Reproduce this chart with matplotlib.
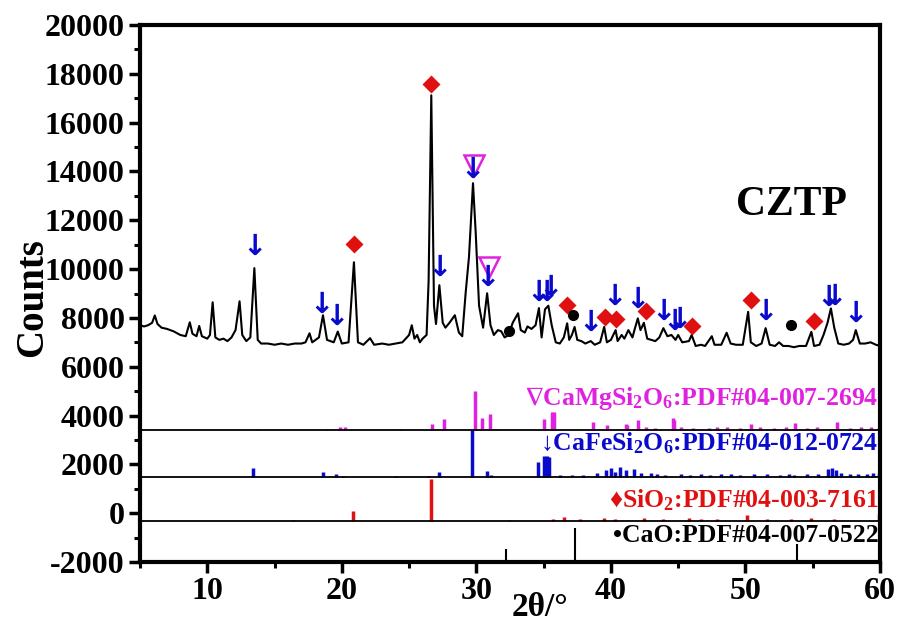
import matplotlib
matplotlib.use("Agg")
import matplotlib.pyplot as plt
from matplotlib.ticker import MultipleLocator

plt.rcParams['font.family'] = ['Liberation Serif', 'DejaVu Serif']
plt.rcParams['font.weight'] = 'bold'
plt.rcParams['mathtext.default'] = 'regular'
plt.rcParams['mathtext.fontset'] = 'dejavuserif'
plt.rcParams['axes.unicode_minus'] = False

# ---- measured XRD pattern (2theta, counts) ----
two_theta = [5.0, 5.3, 5.6, 5.9, 6.1, 6.3, 6.6, 7.0, 7.5, 8.0, 8.4, 8.7, 8.9, 9.2, 9.4, 9.6, 10.0, 10.2, 10.4, 10.6,
             10.9, 11.2, 11.5, 11.8, 12.1, 12.4, 12.6, 12.9, 13.2, 13.5, 13.75, 14.0, 14.5, 15.0, 15.5, 16.0, 16.5, 17.0,
             17.3, 17.6, 17.8, 18.3, 18.6, 18.9, 19.4, 19.7, 20.0, 20.5, 20.9, 21.2, 21.6, 22.1, 22.4, 23.0, 23.5, 24.0,
             24.5, 25.0, 25.2, 25.4, 25.6, 25.8, 26.0, 26.3, 26.45, 26.65, 26.85, 27.0, 27.25, 27.5, 27.7, 28.0, 28.4,
             28.7, 28.95, 29.2, 29.45, 29.75, 29.95, 30.2, 30.5, 30.8, 31.05, 31.3, 31.6, 31.85, 32.1, 32.4, 32.7, 33.1,
             33.3, 33.6, 33.8, 34.1, 34.4, 34.65, 34.85, 35.1, 35.35, 35.6, 35.9, 36.2, 36.5, 36.75, 36.9, 37.1, 37.3,
             37.5, 37.8, 38.1, 38.5, 38.8, 39.2, 39.5, 39.7, 40.0, 40.35, 40.5, 40.8, 41.0, 41.3, 41.6, 41.8, 42.0, 42.2,
             42.45, 42.7, 43.0, 43.3, 43.6, 43.9, 44.2, 44.5, 44.8, 45.0, 45.3, 45.8, 46.0, 46.3, 46.7, 47.0, 47.5, 47.7,
             48.2, 48.6, 48.9, 49.3, 49.8, 50.2, 50.4, 50.8, 51.2, 51.5, 51.8, 52.2, 52.5, 52.8, 53.2, 53.6, 54.0, 54.5,
             54.9, 55.1, 55.5, 55.8, 56.1, 56.35, 56.6, 56.9, 57.3, 57.7, 58.0, 58.2, 58.5, 58.9, 59.3, 59.7, 60.0]
counts = [7700, 7650, 7700, 7800, 8100, 7750, 7600, 7550, 7450, 7300, 7250, 7820, 7350, 7250, 7670, 7250, 7150, 7300, 8640, 7200,
          7100, 7150, 7050, 7200, 7500, 8680, 7300, 7050, 7200, 10040, 7100, 6950, 6950, 6900, 6950, 6900, 6950, 6950,
          7000, 7370, 7000, 7200, 8110, 7100, 7000, 7440, 6950, 7000, 10280, 7000, 6900, 7170, 6900, 6950, 6900, 6950,
          7000, 7300, 7700, 7150, 7300, 7000, 7150, 7300, 9500, 17120, 8500, 7750, 9340, 7800, 7600, 7800, 8110,
          7400, 7250, 9000, 10490, 13520, 11500, 8500, 7600, 9010, 7700, 7300, 7500, 7450, 7200, 7300, 7800, 8190,
          7500, 7400, 7650, 7550, 7700, 8400, 7200, 8350, 8500, 7700, 7000, 6950, 7200, 7780, 7100, 7300, 7630,
          7100, 7050, 6950, 7050, 6900, 7000, 7630, 7000, 7100, 7500, 7050, 7300, 7150, 7500, 7200, 7600, 7980, 7500,
          7800, 7150, 7100, 7050, 7200, 7580, 7250, 7300, 7100, 7300, 7000, 7050, 7300, 6850, 6900, 6850, 7250, 6900,
          6900, 7390, 6950, 6900, 6900, 8250, 7000, 6850, 6950, 7580, 6900, 6850, 7000, 6850, 6850, 6800, 6850, 6850,
          7430, 6850, 6900, 7300, 7800, 8390, 7600, 6950, 6900, 6950, 7100, 7500, 6950, 6950, 7000, 6900, 6850]

# ---- reference patterns (position, relative height) ----
camg_pos = [13.7, 18.9, 19.9, 20.2, 24.35, 26.7, 27.6, 29.9, 30.4, 31.0, 31.6, 35.06, 35.6, 35.8, 38.7, 39.7, 41.1,
            41.2, 42.05, 42.6, 43.3, 44.6, 44.7, 45.2, 46.1, 47.3, 47.9, 48.65, 49.6, 50.4, 51.1, 52.1, 53.0, 53.7,
            54.6, 55.35, 56.8, 57.8, 58.6, 59.3, 59.9]
camg_h = [40, 40, 130, 130, 60, 250, 450, 1600, 490, 650, 50, 450, 740, 740, 340, 200, 270, 200, 400, 120, 100,
          480, 400, 150, 100, 100, 120, 150, 100, 250, 150, 100, 120, 300, 100, 120, 350, 100, 150, 120, 150]
cafe_pos = [13.43, 18.6, 19.6, 20.1, 24.0, 26.4, 27.2, 29.7, 30.8, 31.1, 34.6, 35.06, 35.26, 35.4, 36.25, 37.1, 37.9,
            39.0, 39.6, 40.0, 40.3, 40.7, 41.1, 41.7, 42.2, 42.95, 43.4, 44.0, 45.2, 45.9, 46.7, 47.4, 48.2, 48.9,
            49.6, 50.6, 51.6, 52.6, 53.2, 53.6, 54.6, 55.4, 56.1, 56.4, 56.7, 57.1, 57.8, 58.4, 59.0, 59.5, 59.9]
cafe_h = [370, 200, 100, 40, 30, 40, 200, 1900, 210, 50, 615, 860, 860, 800, 80, 80, 60, 150, 250, 350, 200, 400,
          250, 300, 150, 150, 120, 80, 100, 80, 100, 80, 120, 100, 80, 120, 120, 80, 100, 80, 100, 120, 300, 350,
          250, 150, 100, 120, 100, 150, 150]
sio2_pos = [16.4, 20.86, 26.64, 32.4, 35.7, 36.54, 37.7, 39.47, 40.29, 42.45, 43.9, 45.79, 46.7, 47.9, 50.14,
            51.6, 53.4, 54.87, 56.6, 59.96]
sio2_h = [40, 370, 1710, 40, 50, 150, 50, 120, 80, 120, 50, 100, 50, 60, 220, 60, 60, 100, 60, 250]
cao_pos = [32.2, 37.36, 53.86]
cao_h = [540, 1400, 740]

# baselines of the stacked reference panels
base_camg, base_cafe, base_sio2, base_cao = 3400, 1500, -300, -2000

# ---- phase markers on the pattern ----
arrow_x = [13.5, 18.5, 19.6, 27.3, 29.7, 30.85, 34.6, 35.2, 35.5, 38.5, 40.3, 42.0, 43.9, 44.7, 45.1, 51.5, 56.2, 56.6, 58.2]
arrow_y = [10910, 8520, 8040, 10040, 14050, 9630, 9010, 9010, 9220, 7780, 8860, 8730, 8250, 7840, 7900, 8250, 8800, 8860, 8180]
diam_x = [20.9, 26.65, 36.7, 39.55, 40.35, 42.6, 46.0, 50.4, 55.1]
diam_y = [11020, 17570, 8520, 8040, 7940, 8290, 7670, 8730, 7880]
dot_x = [32.46, 37.2, 53.4]
dot_y = [7470, 8110, 7700]
tri_x = [29.8, 30.97]
tri_y = [14260, 10090]

labels = ["$\\nabla$CaMgSi$_2$O$_6$:PDF#04-007-2694", "↓CaFeSi$_2$O$_6$:PDF#04-012-0724",
          "♦SiO$_2$:PDF#04-003-7161", "•CaO:PDF#04-007-0522"]
label_y = [4420, 2580, 245, -1190]

c_mag, c_blue, c_red, c_blk = '#E022E0', '#0A0ACC', '#E01010', '#000000'

fig = plt.figure(figsize=(9.05, 6.35), dpi=100)
ax = fig.add_axes([140/905, 1-562/635, 740/905, (562-25)/635])

ax.plot(two_theta, counts, color='black', lw=1.5)

for pos, h, base, col in [(camg_pos, camg_h, base_camg, c_mag), (cafe_pos, cafe_h, base_cafe, c_blue),
                          (sio2_pos, sio2_h, base_sio2, c_red), (cao_pos, cao_h, base_cao, c_blk)]:
    ax.vlines(pos, base, [base + v for v in h], colors=col, lw=2.5 if col != c_blk else 1.5)

for b in [base_camg, base_cafe, base_sio2]:
    ax.axhline(b, color='black', lw=1.3)

for x, y in zip(arrow_x, arrow_y):
    ax.text(x, y, '↓', color=c_blue, fontsize=21, ha='center', va='center', family='DejaVu Sans')
ax.plot(diam_x, diam_y, 'D', color=c_red, ms=9, mec='none')
ax.plot(dot_x, dot_y, 'o', color='black', ms=7)
ax.plot(tri_x, tri_y, 'v', mfc='none', mec=c_mag, ms=14, mew=1.8)

for lab, y, col in zip(labels, label_y, [c_mag, c_blue, c_red, c_blk]):
    ax.text(59.9, y, lab, color=col, fontsize=18.5, fontweight='bold', ha='right', va='baseline')

ax.text(53.4, 12620, 'CZTP', fontsize=30, fontweight='bold', ha='center', va='center')

ax.set_xlim(5, 60)
ax.set_ylim(-2000, 20000)
ax.xaxis.set_major_locator(MultipleLocator(10))
ax.xaxis.set_minor_locator(MultipleLocator(5))
ax.yaxis.set_major_locator(MultipleLocator(2000))
ax.yaxis.set_minor_locator(MultipleLocator(1000))
ax.tick_params(which='major', direction='out', length=8, width=2.5, labelsize=23, pad=3)
ax.tick_params(which='minor', direction='out', length=4.5, width=2.2)
for lab in ax.get_xticklabels() + ax.get_yticklabels():
    lab.set_fontweight('bold')
for s in ax.spines.values():
    s.set_linewidth(3)

fig.text(33/905, 1-298/635, 'Counts', rotation=90, fontsize=28, fontweight='bold', ha='center', va='center')
fig.text(540/905, 1-608/635, '2θ/°', fontsize=24, fontweight='bold', ha='center', va='center')

fig.savefig('out.png', dpi=100)
